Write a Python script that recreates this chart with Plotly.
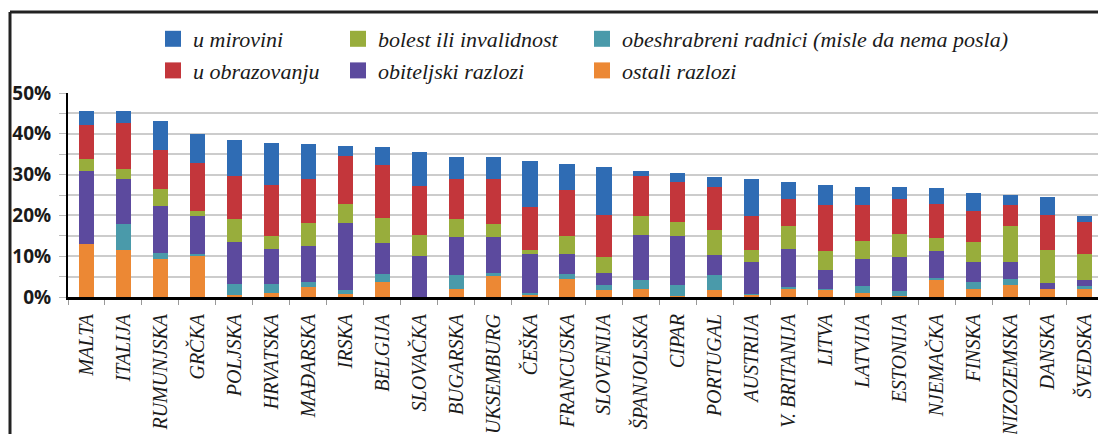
import plotly.graph_objects as go

countries = ["MALTA", "ITALIJA", "RUMUNJSKA", "GRČKA", "POLJSKA", "HRVATSKA", "MAĐARSKA",
             "IRSKA", "BELGIJA", "SLOVAČKA", "BUGARSKA", "LUKSEMBURG", "ČEŠKA", "FRANCUSKA",
             "SLOVENIJA", "ŠPANJOLSKA", "CIPAR", "PORTUGAL", "AUSTRIJA", "V. BRITANIJA",
             "LITVA", "LATVIJA", "ESTONIJA", "NJEMAČKA", "FINSKA", "NIZOZEMSKA", "DANSKA", "ŠVEDSKA"]

# series values in % (stacked bottom -> top)
ostali_razlozi = [13.1, 11.6, 9.4, 10.0, 0.6, 1.0, 2.5, 0.8, 3.8, 0.0, 2.0, 5.1, 0.6, 4.4,
                  1.6, 2.0, 0.2, 1.6, 0.5, 2.2, 1.8, 1.0, 0.3, 4.4, 2.0, 3.0, 2.0, 2.0]
obeshrabreni = [0.0, 6.4, 1.4, 0.6, 2.5, 2.3, 1.3, 0.8, 1.9, 0.0, 3.5, 0.8, 0.4, 1.3,
                1.4, 2.1, 2.8, 3.9, 0.3, 0.2, 0.2, 1.6, 1.1, 0.2, 1.6, 1.4, 0.0, 0.6]
obiteljski = [17.9, 11.0, 11.6, 9.2, 10.5, 8.5, 8.6, 16.5, 7.5, 10.1, 9.1, 8.7, 9.6, 4.9,
              3.0, 11.2, 12.0, 4.7, 7.8, 9.4, 4.5, 6.8, 8.3, 6.6, 4.9, 4.1, 1.4, 1.5]
bolest = [2.9, 2.4, 4.1, 1.4, 5.4, 3.1, 5.7, 4.8, 6.2, 5.2, 4.4, 3.4, 1.0, 4.3,
          3.7, 4.6, 3.3, 6.3, 3.0, 5.5, 4.7, 4.4, 5.8, 3.3, 4.9, 9.0, 8.2, 6.5]
obrazovanje = [8.3, 11.2, 9.5, 11.6, 10.6, 12.6, 10.8, 11.7, 12.9, 12.0, 9.9, 11.0, 10.4, 11.4,
               10.5, 9.7, 10.0, 10.5, 8.2, 6.8, 11.4, 8.7, 8.6, 8.4, 7.8, 5.1, 8.6, 7.8]
mirovina = [3.5, 3.1, 7.1, 7.2, 9.0, 10.2, 8.7, 2.3, 4.5, 8.2, 5.4, 5.2, 11.4, 6.3,
            11.7, 1.3, 2.1, 2.4, 9.1, 4.1, 4.8, 4.5, 2.8, 3.8, 4.3, 2.5, 4.3, 1.5]

y_ticks = [0, 10, 20, 30, 40, 50]
y_ticktext = ["0%", "10%", "20%", "30%", "40%", "50%"]

# (name, values, colour, legend, rank)
series = [
    ("ostali razlozi", ostali_razlozi, "#ec8834", "legend3", 6),
    ("obeshrabreni radnici (misle da nema posla)", obeshrabreni, "#4a9aaa", "legend3", 3),
    ("obiteljski razlozi", obiteljski, "#5c4a9e", "legend2", 5),
    ("bolest ili invalidnost", bolest, "#98ad3c", "legend2", 2),
    ("u obrazovanju", obrazovanje, "#c3363b", "legend", 4),
    ("u mirovini", mirovina, "#2f6cb4", "legend", 1),
]

fig = go.Figure()
for name, vals, col, leg, rank in series:
    fig.add_trace(go.Bar(x=countries, y=vals, name=name, marker=dict(color=col, line=dict(width=0)),
                         showlegend=False, legendgroup=name))
for name, vals, col, leg, rank in series:
    fig.add_trace(go.Scatter(x=[countries[0]], y=[None], mode="markers", name=name, legendgroup=name,
                             marker=dict(symbol="square", size=20, color=col),
                             legend=leg, legendrank=rank, showlegend=True, hoverinfo="skip"))

legend_font = dict(family="Liberation Serif, serif", size=22, style="italic", color="#1a1a1a")
common_leg = dict(xanchor="left", yanchor="top",
                  orientation="v", bgcolor="rgba(0,0,0,0)", font=legend_font,
                  itemsizing="trace", traceorder="normal", itemclick=False)

# page has an 8px body margin: figure coordinates = page coordinates - OFF
OFF = 8
W, H = 1106 - OFF, 434 - OFF
PLOT_LEFT, PLOT_RIGHT, PLOT_TOP, PLOT_BOTTOM = 68, 1103, 93, 297  # page px
L = PLOT_LEFT - OFF
R = W - (PLOT_RIGHT - OFF)
T = PLOT_TOP - OFF
B = H - (PLOT_BOTTOM - OFF)
PW, PH = W - L - R, H - T - B


def px_x(p):
    return (p - OFF - L) / PW


def px_y(p):
    return (H - B - (p - OFF)) / PH


fig.update_layout(
    width=W, height=H,
    margin=dict(l=L, r=R, t=T, b=B, autoexpand=False),
    plot_bgcolor="white", paper_bgcolor="white",
    barmode="stack", bargap=0.59,
    legend=dict(x=px_x(153), y=px_y(18), **common_leg),
    legend2=dict(x=px_x(338), y=px_y(18), **common_leg),
    legend3=dict(x=px_x(582), y=px_y(18), **common_leg),
    xaxis=dict(
        type="category", categoryorder="array", categoryarray=countries,
        range=[-0.5, 27.5], showline=True, linecolor="black", linewidth=3,
        ticks="outside", tickson="boundaries", ticklen=5, tickcolor="#999999",
        tickangle=-90, showgrid=False, automargin=False, ticklabelstandoff=6,
        tickfont=dict(family="Liberation Serif, serif", size=20, style="italic", color="#1a1a1a"),
    ),
    yaxis=dict(
        range=[0, 50], tickvals=y_ticks, ticktext=y_ticktext, automargin=False,
        showline=True, linecolor="black", linewidth=2,
        ticks="outside", ticklen=7, tickcolor="#bbbbbb", ticklabelstandoff=4,
        showgrid=True, gridcolor="#cccccc", gridwidth=2, zeroline=False,
        minor=dict(dtick=5, tick0=0, showgrid=True, gridcolor="#cccccc", gridwidth=2,
                   ticks="outside", ticklen=7, tickcolor="#bbbbbb"),
        tickfont=dict(family="Open Sans, sans-serif", size=19, weight="bold", color="#1a1a1a"),
    ),
    shapes=[
        dict(type="line", xref="paper", yref="paper", x0=px_x(10), x1=px_x(10),
             y0=px_y(12), y1=px_y(440), line=dict(color="#222222", width=3)),
        dict(type="line", xref="paper", yref="paper", x0=px_x(10), x1=px_x(1110),
             y0=px_y(12), y1=px_y(12), line=dict(color="#222222", width=3)),
    ],
)

fig.write_html("out.html")
